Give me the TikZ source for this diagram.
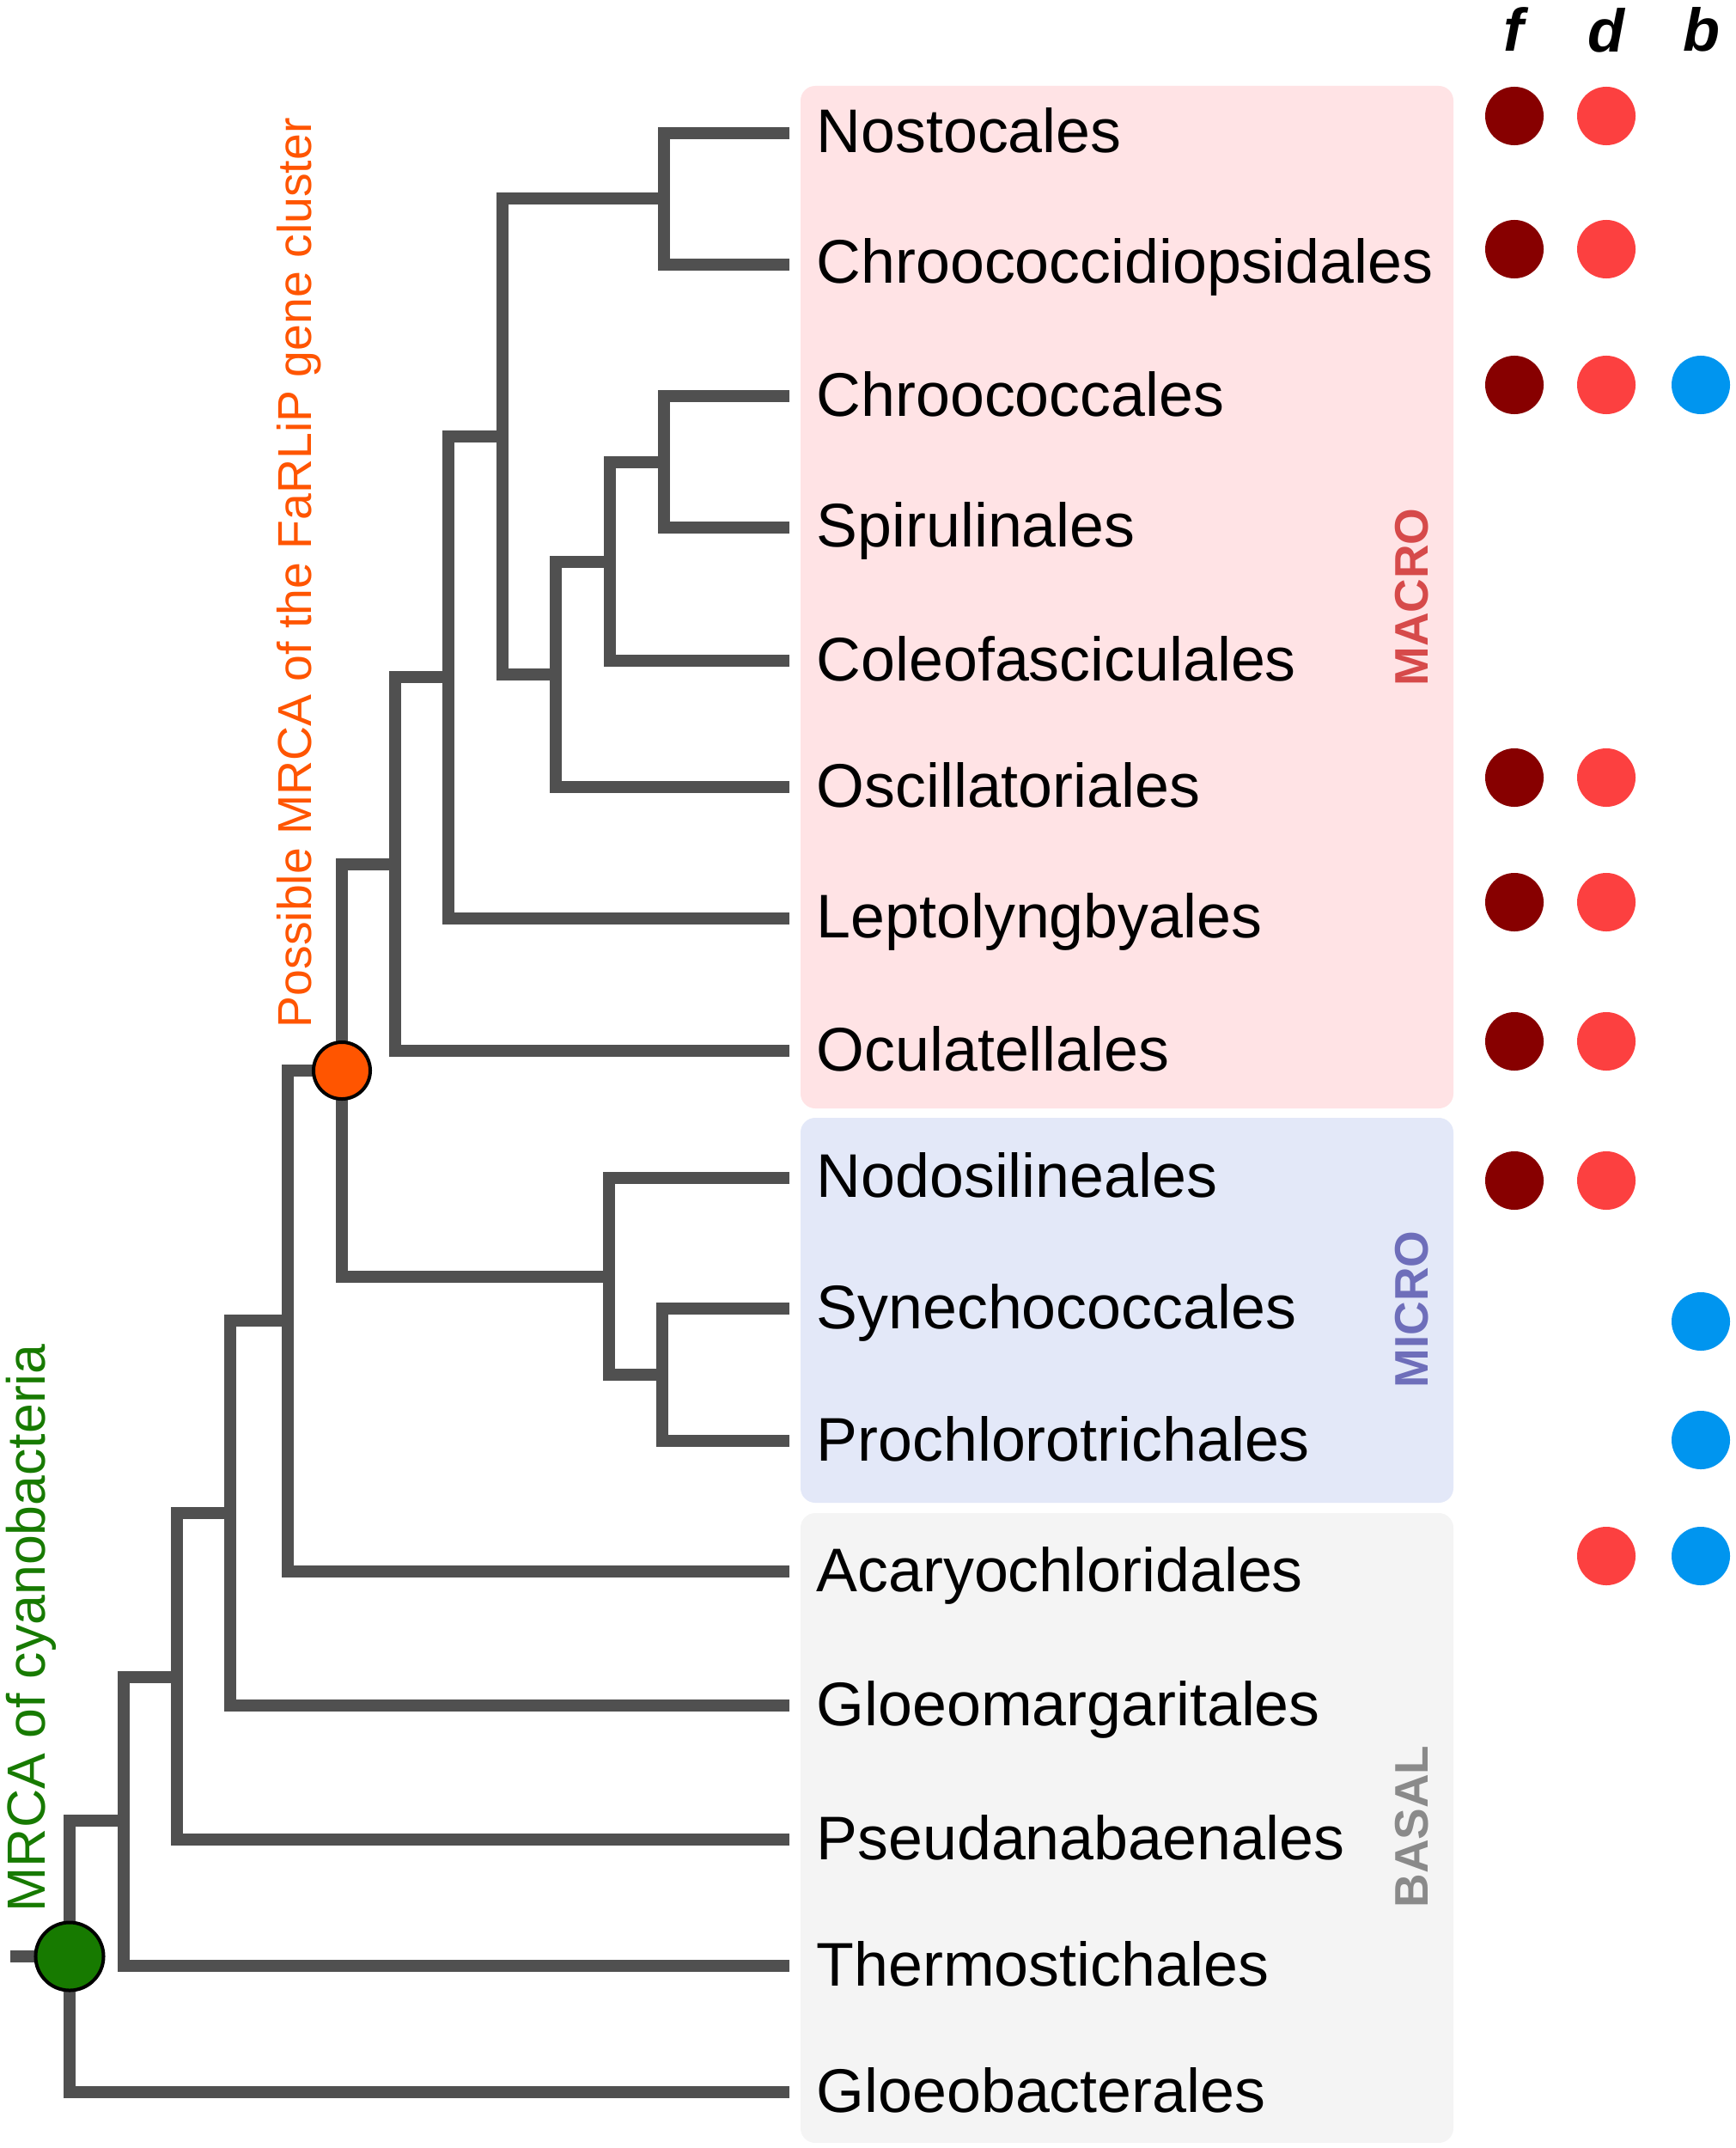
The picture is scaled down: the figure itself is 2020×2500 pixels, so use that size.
\documentclass[tikz,border=0pt]{standalone}
\usepackage{fontspec}
\setmainfont{Liberation Sans}
\definecolor{treec}{RGB}{80,80,80}
\definecolor{macrobg}{RGB}{255,227,229}
\definecolor{microbg}{RGB}{227,232,248}
\definecolor{basalbg}{RGB}{244,244,244}
\definecolor{macroc}{RGB}{214,74,74}
\definecolor{microc}{RGB}{110,110,186}
\definecolor{basalc}{RGB}{138,138,138}
\definecolor{fcol}{RGB}{135,0,0}
\definecolor{dcol}{RGB}{252,64,64}
\definecolor{bcol}{RGB}{0,149,239}
\definecolor{orangec}{RGB}{255,85,0}
\definecolor{greenc}{RGB}{23,122,0}
\begin{document}
\begin{tikzpicture}[x=0.01cm,y=-0.01cm,
  branch/.style={draw=treec,line width=1.35mm,line join=miter},
  leaf/.style={anchor=base west,inner sep=0pt,font=\fontsize{20.4}{24}\selectfont},
  grp/.style={rotate=90,inner sep=0pt,font=\bfseries\fontsize{15.6}{18}\selectfont},
  hdr/.style={anchor=base,inner sep=0pt,font=\bfseries\itshape\fontsize{20}{24}\selectfont},
  dot/.style={circle,inner sep=0pt,minimum size=0.68cm},
  fdot/.style={dot,fill=fcol},
  ddot/.style={dot,fill=dcol},
  bdot/.style={dot,fill=bcol},
  clade/.style={circle,inner sep=0pt,draw=black,line width=0.4mm}]
\useasboundingbox (0,0) rectangle (2020,2500);
% group boxes
\fill[macrobg,rounded corners=0.17cm] (932,100) rectangle (1692,1290);
\fill[microbg,rounded corners=0.17cm] (932,1301) rectangle (1692,1749);
\fill[basalbg,rounded corners=0.17cm] (932,1761) rectangle (1692,2494);
\node[grp,text=macroc] (gmacro) at (1644,695) {MACRO};
\node[grp,text=microc] (gmicro) at (1644,1524) {MICRO};
\node[grp,text=basalc] (gbasal) at (1644,2126) {BASAL};
% leaf ends
\coordinate (L1) at (919,155);
\coordinate (L2) at (919,308);
\coordinate (L3) at (919,461);
\coordinate (L4) at (919,614);
\coordinate (L5) at (919,769);
\coordinate (L6) at (919,916);
\coordinate (L7) at (919,1069);
\coordinate (L8) at (919,1223);
\coordinate (L9) at (919,1371);
\coordinate (L10) at (919,1523);
\coordinate (L11) at (919,1677);
\coordinate (L12) at (919,1829);
\coordinate (L13) at (919,1985);
\coordinate (L14) at (919,2141);
\coordinate (L15) at (919,2288);
\coordinate (L16) at (919,2435);
% internal nodes
\coordinate (n1) at (773,231);
\coordinate (n2) at (773,538);
\coordinate (n3) at (710,654);
\coordinate (n4) at (647,785);
\coordinate (n5) at (585,508);
\coordinate (n6) at (522,788);
\coordinate (n7) at (460,1006);
\coordinate (n8) at (771,1600);
\coordinate (n9) at (709,1486);
\coordinate (n10) at (398,1246);
\coordinate (n11) at (335,1537);
\coordinate (n12) at (268,1761);
\coordinate (n13) at (206,1952);
\coordinate (n14) at (144,2119);
\coordinate (n15) at (81,2277);
\coordinate (stub) at (12,2277);
% branches
\draw[branch] (L1) -- (L1 -| n1) -- (L2 -| n1) -- (L2);
\draw[branch] (L3) -- (L3 -| n2) -- (L4 -| n2) -- (L4);
\draw[branch] (n2) -- (n2 -| n3) -- (L5 -| n3) -- (L5);
\draw[branch] (n3) -- (n3 -| n4) -- (L6 -| n4) -- (L6);
\draw[branch] (n1) -- (n1 -| n5) -- (n4 -| n5) -- (n4);
\draw[branch] (n5) -- (n5 -| n6) -- (L7 -| n6) -- (L7);
\draw[branch] (n6) -- (n6 -| n7) -- (L8 -| n7) -- (L8);
\draw[branch] (L10) -- (L10 -| n8) -- (L11 -| n8) -- (L11);
\draw[branch] (L9) -- (L9 -| n9) -- (n8 -| n9) -- (n8);
\draw[branch] (n7) -- (n7 -| n10) -- (n9 -| n10) -- (n9);
\draw[branch] (n10) -- (n10 -| n11) -- (L12 -| n11) -- (L12);
\draw[branch] (n11) -- (n11 -| n12) -- (L13 -| n12) -- (L13);
\draw[branch] (n12) -- (n12 -| n13) -- (L14 -| n13) -- (L14);
\draw[branch] (n13) -- (n13 -| n14) -- (L15 -| n14) -- (L15);
\draw[branch] (n14) -- (n14 -| n15) -- (L16 -| n15) -- (L16);
\draw[branch] (stub) -- (n15);
% clade markers
\node[clade,fill=orangec,minimum size=0.66cm] (farlip) at (n10) {};
\node[clade,fill=greenc,minimum size=0.79cm] (root) at (n15) {};
\node[rotate=90,anchor=base west,inner sep=0pt,text=orangec,font=\fontsize{15.75}{18}\selectfont] (farlipl) at (362,1197) {Possible MRCA of the FaRLiP gene cluster};
\node[rotate=90,anchor=base west,inner sep=0pt,text=greenc,font=\fontsize{17.8}{20}\selectfont] (rootl) at (52,2226) {MRCA of cyanobacteria};
% leaf labels
\node[leaf] (t1) at (950,178) {Nostocales};
\node[leaf] (t2) at (950,329) {Chroococcidiopsidales};
\node[leaf] (t3) at (950,484) {Chroococcales};
\node[leaf] (t4) at (950,636) {Spirulinales};
\node[leaf] (t5) at (950,792) {Coleofasciculales};
\node[leaf] (t6) at (950,939) {Oscillatoriales};
\node[leaf] (t7) at (950,1091) {Leptolyngbyales};
\node[leaf] (t8) at (950,1246) {Oculatellales};
\node[leaf] (t9) at (950,1393) {Nodosilineales};
\node[leaf] (t10) at (950,1546) {Synechococcales};
\node[leaf] (t11) at (950,1700) {Prochlorotrichales};
\node[leaf] (t12) at (950,1852) {Acaryochloridales};
\node[leaf] (t13) at (950,2008) {Gloeomargaritales};
\node[leaf] (t14) at (950,2164) {Pseudanabaenales};
\node[leaf] (t15) at (950,2311) {Thermostichales};
\node[leaf] (t16) at (950,2458) {Gloeobacterales};
% headers
\node[hdr] (hf) at (1762,60) {f};
\node[hdr] (hd) at (1870,61) {d};
\node[hdr] (hb) at (1981,60) {b};
% trait dots
\node[fdot] (f1) at (1763,135) {};
\node[ddot] (d1) at (1870,135) {};
\node[fdot] (f2) at (1763,290) {};
\node[ddot] (d2) at (1870,290) {};
\node[fdot] (f3) at (1763,448) {};
\node[ddot] (d3) at (1870,448) {};
\node[bdot] (b3) at (1980,448) {};
\node[fdot] (f6) at (1763,905) {};
\node[ddot] (d6) at (1870,905) {};
\node[fdot] (f7) at (1763,1050) {};
\node[ddot] (d7) at (1870,1050) {};
\node[fdot] (f8) at (1763,1212) {};
\node[ddot] (d8) at (1870,1212) {};
\node[fdot] (f9) at (1763,1374) {};
\node[ddot] (d9) at (1870,1374) {};
\node[bdot] (b10) at (1980,1538) {};
\node[bdot] (b11) at (1980,1676) {};
\node[ddot] (d12) at (1870,1811) {};
\node[bdot] (b12) at (1980,1811) {};
\end{tikzpicture}
\end{document}
